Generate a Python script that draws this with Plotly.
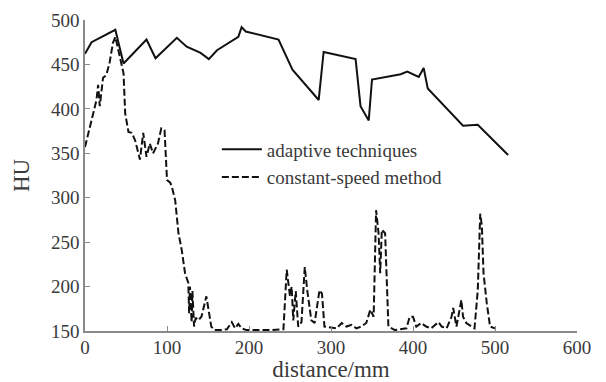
import plotly.graph_objects as go

# Adaptive techniques (solid)
adaptive_x = [0, 8, 37, 47, 75, 86, 112, 124, 141, 151, 161, 187, 191, 196, 236, 253, 285, 291,
              330, 336, 346, 350, 385, 393, 407, 413, 418, 461, 479, 516]
adaptive_y = [462, 475, 489, 451, 478, 457, 480, 470, 463, 456, 466, 481, 492, 487, 478, 444, 410, 464,
              456, 403, 387, 433, 439, 442, 436, 446, 423, 381, 382, 348]

# Constant-speed method (dashed)
constant_x = [0, 6, 10, 14, 16, 18, 22, 26, 30, 34, 37, 41, 47, 49, 53, 57, 61, 67, 71, 75, 79, 83, 89,
              93, 97, 100, 104, 106, 110, 114, 118, 122, 126, 127, 128, 130, 131, 133, 135, 138, 142,
              148, 150, 154, 158, 165, 173, 179, 183, 187, 191, 197, 210, 225, 242, 246, 250, 252, 254,
              257, 260, 264, 268, 271, 276, 280, 286, 289, 292, 299, 307, 313, 319, 325, 331, 337, 343,
              348, 352, 355, 358, 360, 362, 366, 370, 378, 392, 396, 400, 404, 410, 416, 422, 431, 435,
              441, 447, 449, 453, 459, 461, 465, 471, 475, 479, 482, 484, 486, 490, 494, 500]
constant_y = [357, 380, 395, 410, 427, 403, 435, 438, 452, 474, 481, 466, 440, 395, 374, 373, 365, 343,
              373, 346, 361, 350, 361, 378, 376, 320, 317, 312, 297, 260, 241, 215, 204, 170, 200, 160,
              195, 155, 165, 162, 166, 189, 177, 155, 151, 151, 152, 160, 153, 158, 153, 151, 151, 151,
              152, 219, 189, 200, 162, 195, 155, 160, 222, 196, 162, 159, 196, 192, 155, 154, 153, 159,
              155, 157, 153, 155, 159, 174, 166, 286, 260, 215, 264, 260, 155, 151, 153, 166, 166, 155,
              159, 155, 153, 160, 155, 153, 166, 176, 155, 185, 166, 159, 155, 153, 196, 282, 268, 215,
              181, 155, 153]

x_ticks = [0, 100, 200, 300, 400, 500, 600]
y_ticks = [150, 200, 250, 300, 350, 400, 450, 500]

FONT = "Liberation Serif"
AXIS_COLOR = "#8a8a8a"
TEXT_COLOR = "#3a3a3a"
FS = 19

fig = go.Figure()
fig.add_trace(go.Scatter(x=adaptive_x, y=adaptive_y, mode="lines", name="adaptive techniques",
                         line=dict(color="#111111", width=2)))
fig.add_trace(go.Scatter(x=constant_x, y=constant_y, mode="lines", name="constant-speed method",
                         line=dict(color="#111111", width=2, dash="7px,3px")))

# page body has an 8px default margin: figure is sized to fit inside the 606x382 window
fig.update_layout(
    width=598, height=374,
    margin=dict(l=77, r=29, t=12, b=51),
    paper_bgcolor="white", plot_bgcolor="white",
    font=dict(family=FONT, size=FS, color=TEXT_COLOR),
    legend=dict(x=0.268, y=0.645, xanchor="left", yanchor="top", bgcolor="rgba(0,0,0,0)",
                font=dict(family=FONT, size=FS, color=TEXT_COLOR), tracegroupgap=0, itemwidth=40),
    showlegend=True,
)
fig.update_xaxes(range=[0, 600], tickvals=x_ticks, ticks="inside", ticklen=5, tickcolor=AXIS_COLOR,
                 showline=True, linecolor=AXIS_COLOR, linewidth=1.5, showgrid=False, zeroline=False,
                 automargin=False, title=dict(text="distance/mm", standoff=10), tickfont=dict(size=FS),
                 ticklabelstandoff=-2)
fig.update_yaxes(range=[150, 500], tickvals=y_ticks, ticks="inside", ticklen=5, tickcolor=AXIS_COLOR,
                 showline=True, linecolor=AXIS_COLOR, linewidth=1.5, showgrid=False, zeroline=False,
                 automargin=False, title=dict(text="HU"), tickfont=dict(size=FS))

fig.write_html("out.html")
